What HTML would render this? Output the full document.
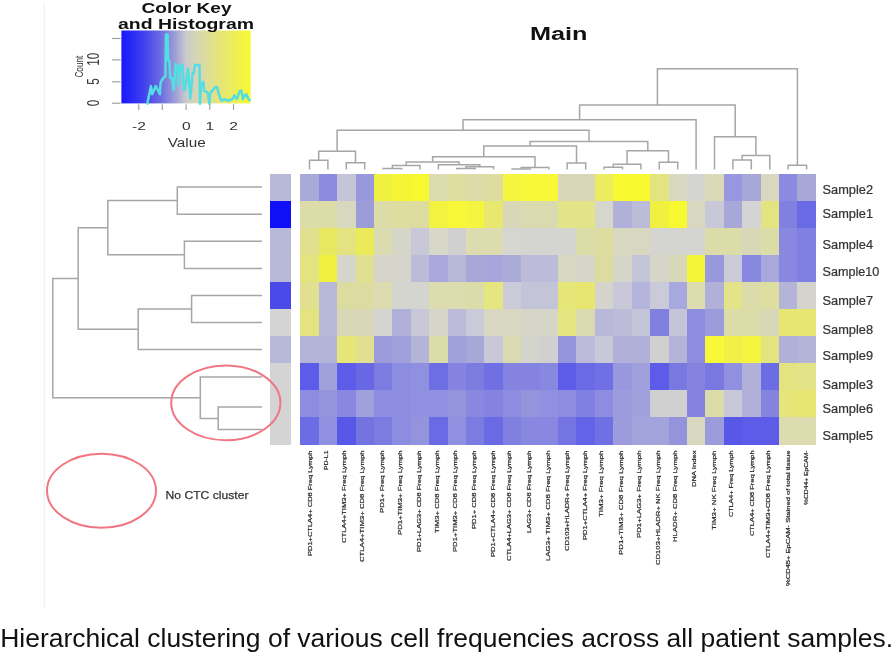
<!DOCTYPE html><html><head><meta charset="utf-8"><title>Heatmap</title><style>html,body{margin:0;padding:0;background:#fff;}body{width:894px;height:656px;position:relative;overflow:hidden;font-family:"Liberation Sans",sans-serif;}</style></head><body><svg width="894" height="656" viewBox="0 0 894 656" style="position:absolute;left:0;top:0;will-change:transform">
<defs><linearGradient id="ck" x1="0" y1="0" x2="1" y2="0"><stop offset="0" stop-color="#1818fc"/><stop offset="0.15" stop-color="#3a3af0"/><stop offset="0.3" stop-color="#6a6ae2"/><stop offset="0.42" stop-color="#a0a0d6"/><stop offset="0.5" stop-color="#cacacc"/><stop offset="0.6" stop-color="#d8d8b0"/><stop offset="0.75" stop-color="#e4e47c"/><stop offset="0.9" stop-color="#f0f050"/><stop offset="1" stop-color="#f8f830"/></linearGradient></defs>
<line x1="44.3" y1="2.5" x2="44.3" y2="608" stroke="#eef0f8" stroke-width="1.2"/>
<g shape-rendering="crispEdges">
<rect x="300.30" y="173.50" width="18.71" height="27.40" fill="#aaaad8"/>
<rect x="318.71" y="173.50" width="18.71" height="27.40" fill="#8b8be0"/>
<rect x="337.12" y="173.50" width="18.71" height="27.40" fill="#c5c5d8"/>
<rect x="355.53" y="173.50" width="18.71" height="27.40" fill="#9898dc"/>
<rect x="373.94" y="173.50" width="18.71" height="27.40" fill="#f0f040"/>
<rect x="392.35" y="173.50" width="18.71" height="27.40" fill="#f5f535"/>
<rect x="410.76" y="173.50" width="18.71" height="27.40" fill="#f8f830"/>
<rect x="429.17" y="173.50" width="18.71" height="27.40" fill="#dcdcb0"/>
<rect x="447.58" y="173.50" width="18.71" height="27.40" fill="#dedea0"/>
<rect x="465.99" y="173.50" width="18.71" height="27.40" fill="#dcdca8"/>
<rect x="484.40" y="173.50" width="18.71" height="27.40" fill="#dddda0"/>
<rect x="502.81" y="173.50" width="18.71" height="27.40" fill="#f5f540"/>
<rect x="521.22" y="173.50" width="18.71" height="27.40" fill="#f8f838"/>
<rect x="539.63" y="173.50" width="18.71" height="27.40" fill="#f8f838"/>
<rect x="558.04" y="173.50" width="18.71" height="27.40" fill="#d8d8b8"/>
<rect x="576.45" y="173.50" width="18.71" height="27.40" fill="#d8d8b8"/>
<rect x="594.86" y="173.50" width="18.71" height="27.40" fill="#ecec60"/>
<rect x="613.27" y="173.50" width="18.71" height="27.40" fill="#f8f830"/>
<rect x="631.68" y="173.50" width="18.71" height="27.40" fill="#f8f830"/>
<rect x="650.09" y="173.50" width="18.71" height="27.40" fill="#e3e380"/>
<rect x="668.50" y="173.50" width="18.71" height="27.40" fill="#d8d8c0"/>
<rect x="686.91" y="173.50" width="18.71" height="27.40" fill="#d4d4d0"/>
<rect x="705.32" y="173.50" width="18.71" height="27.40" fill="#dadab8"/>
<rect x="723.73" y="173.50" width="18.71" height="27.40" fill="#9898e0"/>
<rect x="742.14" y="173.50" width="18.71" height="27.40" fill="#a8a8d8"/>
<rect x="760.55" y="173.50" width="18.71" height="27.40" fill="#d8d8c0"/>
<rect x="778.96" y="173.50" width="18.71" height="27.40" fill="#8a8ae0"/>
<rect x="797.37" y="173.50" width="18.71" height="27.40" fill="#a8a8d8"/>
<rect x="300.30" y="200.60" width="18.71" height="27.40" fill="#dcdca8"/>
<rect x="318.71" y="200.60" width="18.71" height="27.40" fill="#dcdca8"/>
<rect x="337.12" y="200.60" width="18.71" height="27.40" fill="#d8d8c0"/>
<rect x="355.53" y="200.60" width="18.71" height="27.40" fill="#9c9cd8"/>
<rect x="373.94" y="200.60" width="18.71" height="27.40" fill="#dcdca8"/>
<rect x="392.35" y="200.60" width="18.71" height="27.40" fill="#dddda0"/>
<rect x="410.76" y="200.60" width="18.71" height="27.40" fill="#dcdca0"/>
<rect x="429.17" y="200.60" width="18.71" height="27.40" fill="#f2f240"/>
<rect x="447.58" y="200.60" width="18.71" height="27.40" fill="#f8f838"/>
<rect x="465.99" y="200.60" width="18.71" height="27.40" fill="#f5f540"/>
<rect x="484.40" y="200.60" width="18.71" height="27.40" fill="#e8e870"/>
<rect x="502.81" y="200.60" width="18.71" height="27.40" fill="#d8d8b8"/>
<rect x="521.22" y="200.60" width="18.71" height="27.40" fill="#dadab0"/>
<rect x="539.63" y="200.60" width="18.71" height="27.40" fill="#dadab0"/>
<rect x="558.04" y="200.60" width="18.71" height="27.40" fill="#e3e388"/>
<rect x="576.45" y="200.60" width="18.71" height="27.40" fill="#e3e388"/>
<rect x="594.86" y="200.60" width="18.71" height="27.40" fill="#d6d6cc"/>
<rect x="613.27" y="200.60" width="18.71" height="27.40" fill="#b0b0d8"/>
<rect x="631.68" y="200.60" width="18.71" height="27.40" fill="#bcbcd8"/>
<rect x="650.09" y="200.60" width="18.71" height="27.40" fill="#f0f040"/>
<rect x="668.50" y="200.60" width="18.71" height="27.40" fill="#f8f830"/>
<rect x="686.91" y="200.60" width="18.71" height="27.40" fill="#d8d8c0"/>
<rect x="705.32" y="200.60" width="18.71" height="27.40" fill="#c8c8d8"/>
<rect x="723.73" y="200.60" width="18.71" height="27.40" fill="#a8a8d8"/>
<rect x="742.14" y="200.60" width="18.71" height="27.40" fill="#d4d4d4"/>
<rect x="760.55" y="200.60" width="18.71" height="27.40" fill="#e3e380"/>
<rect x="778.96" y="200.60" width="18.71" height="27.40" fill="#8080e0"/>
<rect x="797.37" y="200.60" width="18.71" height="27.40" fill="#6a6ae4"/>
<rect x="300.30" y="227.70" width="18.71" height="27.40" fill="#e0e090"/>
<rect x="318.71" y="227.70" width="18.71" height="27.40" fill="#e8e860"/>
<rect x="337.12" y="227.70" width="18.71" height="27.40" fill="#e3e380"/>
<rect x="355.53" y="227.70" width="18.71" height="27.40" fill="#ebeb5a"/>
<rect x="373.94" y="227.70" width="18.71" height="27.40" fill="#dadab0"/>
<rect x="392.35" y="227.70" width="18.71" height="27.40" fill="#d6d6c8"/>
<rect x="410.76" y="227.70" width="18.71" height="27.40" fill="#c8c8d8"/>
<rect x="429.17" y="227.70" width="18.71" height="27.40" fill="#d8d8c8"/>
<rect x="447.58" y="227.70" width="18.71" height="27.40" fill="#d0d0d0"/>
<rect x="465.99" y="227.70" width="18.71" height="27.40" fill="#dcdcb0"/>
<rect x="484.40" y="227.70" width="18.71" height="27.40" fill="#dcdcb0"/>
<rect x="502.81" y="227.70" width="18.71" height="27.40" fill="#d6d6d0"/>
<rect x="521.22" y="227.70" width="18.71" height="27.40" fill="#d4d4d0"/>
<rect x="539.63" y="227.70" width="18.71" height="27.40" fill="#d4d4d0"/>
<rect x="558.04" y="227.70" width="18.71" height="27.40" fill="#d4d4d0"/>
<rect x="576.45" y="227.70" width="18.71" height="27.40" fill="#dcdca8"/>
<rect x="594.86" y="227.70" width="18.71" height="27.40" fill="#dcdca0"/>
<rect x="613.27" y="227.70" width="18.71" height="27.40" fill="#d8d8c0"/>
<rect x="631.68" y="227.70" width="18.71" height="27.40" fill="#d8d8c0"/>
<rect x="650.09" y="227.70" width="18.71" height="27.40" fill="#d4d4d0"/>
<rect x="668.50" y="227.70" width="18.71" height="27.40" fill="#d4d4d0"/>
<rect x="686.91" y="227.70" width="18.71" height="27.40" fill="#d4d4d0"/>
<rect x="705.32" y="227.70" width="18.71" height="27.40" fill="#dcdca8"/>
<rect x="723.73" y="227.70" width="18.71" height="27.40" fill="#dcdca8"/>
<rect x="742.14" y="227.70" width="18.71" height="27.40" fill="#d8d8b8"/>
<rect x="760.55" y="227.70" width="18.71" height="27.40" fill="#dcdca8"/>
<rect x="778.96" y="227.70" width="18.71" height="27.40" fill="#8888e0"/>
<rect x="797.37" y="227.70" width="18.71" height="27.40" fill="#8080e0"/>
<rect x="300.30" y="254.80" width="18.71" height="27.40" fill="#e3e380"/>
<rect x="318.71" y="254.80" width="18.71" height="27.40" fill="#f0f040"/>
<rect x="337.12" y="254.80" width="18.71" height="27.40" fill="#d5d5cc"/>
<rect x="355.53" y="254.80" width="18.71" height="27.40" fill="#e0e090"/>
<rect x="373.94" y="254.80" width="18.71" height="27.40" fill="#d5d5cc"/>
<rect x="392.35" y="254.80" width="18.71" height="27.40" fill="#d5d5cc"/>
<rect x="410.76" y="254.80" width="18.71" height="27.40" fill="#bcbcd8"/>
<rect x="429.17" y="254.80" width="18.71" height="27.40" fill="#a8a8dc"/>
<rect x="447.58" y="254.80" width="18.71" height="27.40" fill="#b8b8d8"/>
<rect x="465.99" y="254.80" width="18.71" height="27.40" fill="#a8a8d8"/>
<rect x="484.40" y="254.80" width="18.71" height="27.40" fill="#a6a6dc"/>
<rect x="502.81" y="254.80" width="18.71" height="27.40" fill="#ababd8"/>
<rect x="521.22" y="254.80" width="18.71" height="27.40" fill="#bcbcd8"/>
<rect x="539.63" y="254.80" width="18.71" height="27.40" fill="#bcbcd8"/>
<rect x="558.04" y="254.80" width="18.71" height="27.40" fill="#d8d8c0"/>
<rect x="576.45" y="254.80" width="18.71" height="27.40" fill="#d6d6c8"/>
<rect x="594.86" y="254.80" width="18.71" height="27.40" fill="#dcdca0"/>
<rect x="613.27" y="254.80" width="18.71" height="27.40" fill="#d6d6c8"/>
<rect x="631.68" y="254.80" width="18.71" height="27.40" fill="#c4c4d8"/>
<rect x="650.09" y="254.80" width="18.71" height="27.40" fill="#d6d6c8"/>
<rect x="668.50" y="254.80" width="18.71" height="27.40" fill="#d8d8b8"/>
<rect x="686.91" y="254.80" width="18.71" height="27.40" fill="#f5f538"/>
<rect x="705.32" y="254.80" width="18.71" height="27.40" fill="#9898dc"/>
<rect x="723.73" y="254.80" width="18.71" height="27.40" fill="#cacad8"/>
<rect x="742.14" y="254.80" width="18.71" height="27.40" fill="#8888e0"/>
<rect x="760.55" y="254.80" width="18.71" height="27.40" fill="#a8a8dc"/>
<rect x="778.96" y="254.80" width="18.71" height="27.40" fill="#8888e0"/>
<rect x="797.37" y="254.80" width="18.71" height="27.40" fill="#8080e0"/>
<rect x="300.30" y="281.90" width="18.71" height="27.40" fill="#e0e090"/>
<rect x="318.71" y="281.90" width="18.71" height="27.40" fill="#b8b8d8"/>
<rect x="337.12" y="281.90" width="18.71" height="27.40" fill="#dcdca0"/>
<rect x="355.53" y="281.90" width="18.71" height="27.40" fill="#dcdca0"/>
<rect x="373.94" y="281.90" width="18.71" height="27.40" fill="#dcdcb0"/>
<rect x="392.35" y="281.90" width="18.71" height="27.40" fill="#d5d5d0"/>
<rect x="410.76" y="281.90" width="18.71" height="27.40" fill="#d5d5d0"/>
<rect x="429.17" y="281.90" width="18.71" height="27.40" fill="#dcdcb0"/>
<rect x="447.58" y="281.90" width="18.71" height="27.40" fill="#dcdcb0"/>
<rect x="465.99" y="281.90" width="18.71" height="27.40" fill="#dcdcaa"/>
<rect x="484.40" y="281.90" width="18.71" height="27.40" fill="#e6e680"/>
<rect x="502.81" y="281.90" width="18.71" height="27.40" fill="#cacad8"/>
<rect x="521.22" y="281.90" width="18.71" height="27.40" fill="#c4c4d8"/>
<rect x="539.63" y="281.90" width="18.71" height="27.40" fill="#c4c4d8"/>
<rect x="558.04" y="281.90" width="18.71" height="27.40" fill="#e6e678"/>
<rect x="576.45" y="281.90" width="18.71" height="27.40" fill="#e6e670"/>
<rect x="594.86" y="281.90" width="18.71" height="27.40" fill="#d4d4cc"/>
<rect x="613.27" y="281.90" width="18.71" height="27.40" fill="#c8c8d8"/>
<rect x="631.68" y="281.90" width="18.71" height="27.40" fill="#b4b4dc"/>
<rect x="650.09" y="281.90" width="18.71" height="27.40" fill="#cacad8"/>
<rect x="668.50" y="281.90" width="18.71" height="27.40" fill="#a8a8e0"/>
<rect x="686.91" y="281.90" width="18.71" height="27.40" fill="#dcdcb0"/>
<rect x="705.32" y="281.90" width="18.71" height="27.40" fill="#b0b0d8"/>
<rect x="723.73" y="281.90" width="18.71" height="27.40" fill="#e3e38a"/>
<rect x="742.14" y="281.90" width="18.71" height="27.40" fill="#dcdcaa"/>
<rect x="760.55" y="281.90" width="18.71" height="27.40" fill="#dedea0"/>
<rect x="778.96" y="281.90" width="18.71" height="27.40" fill="#b4b4d8"/>
<rect x="797.37" y="281.90" width="18.71" height="27.40" fill="#d4d4cc"/>
<rect x="300.30" y="309.00" width="18.71" height="27.40" fill="#e3e380"/>
<rect x="318.71" y="309.00" width="18.71" height="27.40" fill="#b8b8d8"/>
<rect x="337.12" y="309.00" width="18.71" height="27.40" fill="#d8d8b8"/>
<rect x="355.53" y="309.00" width="18.71" height="27.40" fill="#d8d8b8"/>
<rect x="373.94" y="309.00" width="18.71" height="27.40" fill="#d4d4d0"/>
<rect x="392.35" y="309.00" width="18.71" height="27.40" fill="#b0b0d8"/>
<rect x="410.76" y="309.00" width="18.71" height="27.40" fill="#c8c8d8"/>
<rect x="429.17" y="309.00" width="18.71" height="27.40" fill="#d6d6c8"/>
<rect x="447.58" y="309.00" width="18.71" height="27.40" fill="#bcbcd8"/>
<rect x="465.99" y="309.00" width="18.71" height="27.40" fill="#cacad8"/>
<rect x="484.40" y="309.00" width="18.71" height="27.40" fill="#d8d8c0"/>
<rect x="502.81" y="309.00" width="18.71" height="27.40" fill="#d8d8c0"/>
<rect x="521.22" y="309.00" width="18.71" height="27.40" fill="#d6d6c8"/>
<rect x="539.63" y="309.00" width="18.71" height="27.40" fill="#d6d6c8"/>
<rect x="558.04" y="309.00" width="18.71" height="27.40" fill="#e6e680"/>
<rect x="576.45" y="309.00" width="18.71" height="27.40" fill="#dadab0"/>
<rect x="594.86" y="309.00" width="18.71" height="27.40" fill="#b8b8d8"/>
<rect x="613.27" y="309.00" width="18.71" height="27.40" fill="#bcbcd8"/>
<rect x="631.68" y="309.00" width="18.71" height="27.40" fill="#c4c4d8"/>
<rect x="650.09" y="309.00" width="18.71" height="27.40" fill="#8080e0"/>
<rect x="668.50" y="309.00" width="18.71" height="27.40" fill="#c4c4d8"/>
<rect x="686.91" y="309.00" width="18.71" height="27.40" fill="#8c8ce0"/>
<rect x="705.32" y="309.00" width="18.71" height="27.40" fill="#9c9cdc"/>
<rect x="723.73" y="309.00" width="18.71" height="27.40" fill="#dcdca8"/>
<rect x="742.14" y="309.00" width="18.71" height="27.40" fill="#dcdca8"/>
<rect x="760.55" y="309.00" width="18.71" height="27.40" fill="#d8d8b8"/>
<rect x="778.96" y="309.00" width="18.71" height="27.40" fill="#e6e670"/>
<rect x="797.37" y="309.00" width="18.71" height="27.40" fill="#e6e670"/>
<rect x="300.30" y="336.10" width="18.71" height="27.40" fill="#b4b4d8"/>
<rect x="318.71" y="336.10" width="18.71" height="27.40" fill="#b4b4d8"/>
<rect x="337.12" y="336.10" width="18.71" height="27.40" fill="#e6e678"/>
<rect x="355.53" y="336.10" width="18.71" height="27.40" fill="#e0e090"/>
<rect x="373.94" y="336.10" width="18.71" height="27.40" fill="#9c9cdc"/>
<rect x="392.35" y="336.10" width="18.71" height="27.40" fill="#a0a0dc"/>
<rect x="410.76" y="336.10" width="18.71" height="27.40" fill="#b4b4d8"/>
<rect x="429.17" y="336.10" width="18.71" height="27.40" fill="#dcdca8"/>
<rect x="447.58" y="336.10" width="18.71" height="27.40" fill="#a0a0dc"/>
<rect x="465.99" y="336.10" width="18.71" height="27.40" fill="#a8a8d8"/>
<rect x="484.40" y="336.10" width="18.71" height="27.40" fill="#c8c8d8"/>
<rect x="502.81" y="336.10" width="18.71" height="27.40" fill="#dadab0"/>
<rect x="521.22" y="336.10" width="18.71" height="27.40" fill="#d4d4cc"/>
<rect x="539.63" y="336.10" width="18.71" height="27.40" fill="#d0d0d0"/>
<rect x="558.04" y="336.10" width="18.71" height="27.40" fill="#9494dc"/>
<rect x="576.45" y="336.10" width="18.71" height="27.40" fill="#bcbcd8"/>
<rect x="594.86" y="336.10" width="18.71" height="27.40" fill="#c8c8d8"/>
<rect x="613.27" y="336.10" width="18.71" height="27.40" fill="#b0b0d8"/>
<rect x="631.68" y="336.10" width="18.71" height="27.40" fill="#b0b0d8"/>
<rect x="650.09" y="336.10" width="18.71" height="27.40" fill="#d0d0d0"/>
<rect x="668.50" y="336.10" width="18.71" height="27.40" fill="#b4b4d8"/>
<rect x="686.91" y="336.10" width="18.71" height="27.40" fill="#8c8ce0"/>
<rect x="705.32" y="336.10" width="18.71" height="27.40" fill="#f8f838"/>
<rect x="723.73" y="336.10" width="18.71" height="27.40" fill="#f0f048"/>
<rect x="742.14" y="336.10" width="18.71" height="27.40" fill="#f5f540"/>
<rect x="760.55" y="336.10" width="18.71" height="27.40" fill="#e3e380"/>
<rect x="778.96" y="336.10" width="18.71" height="27.40" fill="#b0b0d8"/>
<rect x="797.37" y="336.10" width="18.71" height="27.40" fill="#b4b4d8"/>
<rect x="300.30" y="363.20" width="18.71" height="27.40" fill="#5c5ce8"/>
<rect x="318.71" y="363.20" width="18.71" height="27.40" fill="#a0a0dc"/>
<rect x="337.12" y="363.20" width="18.71" height="27.40" fill="#5c5ce8"/>
<rect x="355.53" y="363.20" width="18.71" height="27.40" fill="#6868e4"/>
<rect x="373.94" y="363.20" width="18.71" height="27.40" fill="#7c7ce0"/>
<rect x="392.35" y="363.20" width="18.71" height="27.40" fill="#8c8ce0"/>
<rect x="410.76" y="363.20" width="18.71" height="27.40" fill="#9090e0"/>
<rect x="429.17" y="363.20" width="18.71" height="27.40" fill="#6e6ee4"/>
<rect x="447.58" y="363.20" width="18.71" height="27.40" fill="#8484e0"/>
<rect x="465.99" y="363.20" width="18.71" height="27.40" fill="#7c7ce0"/>
<rect x="484.40" y="363.20" width="18.71" height="27.40" fill="#7070e4"/>
<rect x="502.81" y="363.20" width="18.71" height="27.40" fill="#8484e0"/>
<rect x="521.22" y="363.20" width="18.71" height="27.40" fill="#8484e0"/>
<rect x="539.63" y="363.20" width="18.71" height="27.40" fill="#8888e0"/>
<rect x="558.04" y="363.20" width="18.71" height="27.40" fill="#5c5ce8"/>
<rect x="576.45" y="363.20" width="18.71" height="27.40" fill="#6a6ae4"/>
<rect x="594.86" y="363.20" width="18.71" height="27.40" fill="#7070e4"/>
<rect x="613.27" y="363.20" width="18.71" height="27.40" fill="#9898dc"/>
<rect x="631.68" y="363.20" width="18.71" height="27.40" fill="#a0a0dc"/>
<rect x="650.09" y="363.20" width="18.71" height="27.40" fill="#5c5ce8"/>
<rect x="668.50" y="363.20" width="18.71" height="27.40" fill="#7878e0"/>
<rect x="686.91" y="363.20" width="18.71" height="27.40" fill="#8484e0"/>
<rect x="705.32" y="363.20" width="18.71" height="27.40" fill="#7878e0"/>
<rect x="723.73" y="363.20" width="18.71" height="27.40" fill="#9090e0"/>
<rect x="742.14" y="363.20" width="18.71" height="27.40" fill="#b0b0d8"/>
<rect x="760.55" y="363.20" width="18.71" height="27.40" fill="#6c6ce4"/>
<rect x="778.96" y="363.20" width="18.71" height="27.40" fill="#e3e380"/>
<rect x="797.37" y="363.20" width="18.71" height="27.40" fill="#e3e388"/>
<rect x="300.30" y="390.30" width="18.71" height="27.40" fill="#8c8ce0"/>
<rect x="318.71" y="390.30" width="18.71" height="27.40" fill="#9494dc"/>
<rect x="337.12" y="390.30" width="18.71" height="27.40" fill="#8888e0"/>
<rect x="355.53" y="390.30" width="18.71" height="27.40" fill="#a0a0dc"/>
<rect x="373.94" y="390.30" width="18.71" height="27.40" fill="#8c8ce0"/>
<rect x="392.35" y="390.30" width="18.71" height="27.40" fill="#8c8ce0"/>
<rect x="410.76" y="390.30" width="18.71" height="27.40" fill="#9090e0"/>
<rect x="429.17" y="390.30" width="18.71" height="27.40" fill="#9090e0"/>
<rect x="447.58" y="390.30" width="18.71" height="27.40" fill="#9494dc"/>
<rect x="465.99" y="390.30" width="18.71" height="27.40" fill="#8888e0"/>
<rect x="484.40" y="390.30" width="18.71" height="27.40" fill="#8484e0"/>
<rect x="502.81" y="390.30" width="18.71" height="27.40" fill="#8c8ce0"/>
<rect x="521.22" y="390.30" width="18.71" height="27.40" fill="#9494dc"/>
<rect x="539.63" y="390.30" width="18.71" height="27.40" fill="#9090e0"/>
<rect x="558.04" y="390.30" width="18.71" height="27.40" fill="#8c8ce0"/>
<rect x="576.45" y="390.30" width="18.71" height="27.40" fill="#8080e0"/>
<rect x="594.86" y="390.30" width="18.71" height="27.40" fill="#8c8ce0"/>
<rect x="613.27" y="390.30" width="18.71" height="27.40" fill="#9c9cdc"/>
<rect x="631.68" y="390.30" width="18.71" height="27.40" fill="#a0a0dc"/>
<rect x="650.09" y="390.30" width="18.71" height="27.40" fill="#d0d0d0"/>
<rect x="668.50" y="390.30" width="18.71" height="27.40" fill="#d0d0d0"/>
<rect x="686.91" y="390.30" width="18.71" height="27.40" fill="#8484e0"/>
<rect x="705.32" y="390.30" width="18.71" height="27.40" fill="#dcdca8"/>
<rect x="723.73" y="390.30" width="18.71" height="27.40" fill="#c8c8d8"/>
<rect x="742.14" y="390.30" width="18.71" height="27.40" fill="#b0b0d8"/>
<rect x="760.55" y="390.30" width="18.71" height="27.40" fill="#8484e0"/>
<rect x="778.96" y="390.30" width="18.71" height="27.40" fill="#e6e678"/>
<rect x="797.37" y="390.30" width="18.71" height="27.40" fill="#e6e670"/>
<rect x="300.30" y="417.40" width="18.71" height="27.40" fill="#6c6ce4"/>
<rect x="318.71" y="417.40" width="18.71" height="27.40" fill="#9090e0"/>
<rect x="337.12" y="417.40" width="18.71" height="27.40" fill="#5858e8"/>
<rect x="355.53" y="417.40" width="18.71" height="27.40" fill="#7474e0"/>
<rect x="373.94" y="417.40" width="18.71" height="27.40" fill="#7c7ce0"/>
<rect x="392.35" y="417.40" width="18.71" height="27.40" fill="#8c8ce0"/>
<rect x="410.76" y="417.40" width="18.71" height="27.40" fill="#9494dc"/>
<rect x="429.17" y="417.40" width="18.71" height="27.40" fill="#6a6ae4"/>
<rect x="447.58" y="417.40" width="18.71" height="27.40" fill="#9090e0"/>
<rect x="465.99" y="417.40" width="18.71" height="27.40" fill="#7c7ce0"/>
<rect x="484.40" y="417.40" width="18.71" height="27.40" fill="#6a6ae4"/>
<rect x="502.81" y="417.40" width="18.71" height="27.40" fill="#8080e0"/>
<rect x="521.22" y="417.40" width="18.71" height="27.40" fill="#8888e0"/>
<rect x="539.63" y="417.40" width="18.71" height="27.40" fill="#8888e0"/>
<rect x="558.04" y="417.40" width="18.71" height="27.40" fill="#7474e4"/>
<rect x="576.45" y="417.40" width="18.71" height="27.40" fill="#6464e8"/>
<rect x="594.86" y="417.40" width="18.71" height="27.40" fill="#7070e4"/>
<rect x="613.27" y="417.40" width="18.71" height="27.40" fill="#9c9cdc"/>
<rect x="631.68" y="417.40" width="18.71" height="27.40" fill="#a4a4dc"/>
<rect x="650.09" y="417.40" width="18.71" height="27.40" fill="#a4a4dc"/>
<rect x="668.50" y="417.40" width="18.71" height="27.40" fill="#9494dc"/>
<rect x="686.91" y="417.40" width="18.71" height="27.40" fill="#d8d8c0"/>
<rect x="705.32" y="417.40" width="18.71" height="27.40" fill="#9c9cdc"/>
<rect x="723.73" y="417.40" width="18.71" height="27.40" fill="#5858e8"/>
<rect x="742.14" y="417.40" width="18.71" height="27.40" fill="#5c5ce8"/>
<rect x="760.55" y="417.40" width="18.71" height="27.40" fill="#5c5ce8"/>
<rect x="778.96" y="417.40" width="18.71" height="27.40" fill="#dcdcb0"/>
<rect x="797.37" y="417.40" width="18.71" height="27.40" fill="#dcdcb0"/>
<rect x="270.4" y="173.50" width="21" height="27.40" fill="#b8b8d8"/>
<rect x="270.4" y="200.60" width="21" height="27.40" fill="#1010f8"/>
<rect x="270.4" y="227.70" width="21" height="27.40" fill="#b8b8d8"/>
<rect x="270.4" y="254.80" width="21" height="27.40" fill="#b8b8d8"/>
<rect x="270.4" y="281.90" width="21" height="27.40" fill="#4a4ae8"/>
<rect x="270.4" y="309.00" width="21" height="27.40" fill="#d4d4d4"/>
<rect x="270.4" y="336.10" width="21" height="27.40" fill="#b8b8d8"/>
<rect x="270.4" y="363.20" width="21" height="27.40" fill="#d4d4d4"/>
<rect x="270.4" y="390.30" width="21" height="27.40" fill="#d4d4d4"/>
<rect x="270.4" y="417.40" width="21" height="27.40" fill="#d4d4d4"/>
</g>
<text x="822.6" y="194.4" font-family="Liberation Sans" font-size="12.8" fill="#333" stroke="#333" stroke-width="0.22" textLength="50.4" lengthAdjust="spacingAndGlyphs">Sample2</text>
<text x="822.6" y="218.4" font-family="Liberation Sans" font-size="12.8" fill="#333" stroke="#333" stroke-width="0.22" textLength="50.4" lengthAdjust="spacingAndGlyphs">Sample1</text>
<text x="822.6" y="248.9" font-family="Liberation Sans" font-size="12.8" fill="#333" stroke="#333" stroke-width="0.22" textLength="50.4" lengthAdjust="spacingAndGlyphs">Sample4</text>
<text x="822.6" y="275.7" font-family="Liberation Sans" font-size="12.8" fill="#333" stroke="#333" stroke-width="0.22" textLength="56.6" lengthAdjust="spacingAndGlyphs">Sample10</text>
<text x="822.6" y="304.9" font-family="Liberation Sans" font-size="12.8" fill="#333" stroke="#333" stroke-width="0.22" textLength="50.4" lengthAdjust="spacingAndGlyphs">Sample7</text>
<text x="822.6" y="334.3" font-family="Liberation Sans" font-size="12.8" fill="#333" stroke="#333" stroke-width="0.22" textLength="50.4" lengthAdjust="spacingAndGlyphs">Sample8</text>
<text x="822.6" y="359.8" font-family="Liberation Sans" font-size="12.8" fill="#333" stroke="#333" stroke-width="0.22" textLength="50.4" lengthAdjust="spacingAndGlyphs">Sample9</text>
<text x="822.6" y="388.7" font-family="Liberation Sans" font-size="12.8" fill="#333" stroke="#333" stroke-width="0.22" textLength="50.4" lengthAdjust="spacingAndGlyphs">Sample3</text>
<text x="822.6" y="413.0" font-family="Liberation Sans" font-size="12.8" fill="#333" stroke="#333" stroke-width="0.22" textLength="50.4" lengthAdjust="spacingAndGlyphs">Sample6</text>
<text x="822.6" y="440.4" font-family="Liberation Sans" font-size="12.8" fill="#333" stroke="#333" stroke-width="0.22" textLength="50.4" lengthAdjust="spacingAndGlyphs">Sample5</text>
<text transform="translate(311.5,556) rotate(-90)" x="0" y="0" font-family="Liberation Sans" font-size="6.1" fill="#2a2a2a" stroke="#2a2a2a" stroke-width="0.22" textLength="105.5" lengthAdjust="spacingAndGlyphs">PD1+CTLA4+ CD8 Freq Lymph</text>
<text transform="translate(328.2,470) rotate(-90)" x="0" y="0" font-family="Liberation Sans" font-size="6.1" fill="#2a2a2a" stroke="#2a2a2a" stroke-width="0.22" textLength="19.5" lengthAdjust="spacingAndGlyphs">PD-L1</text>
<text transform="translate(346.3,543) rotate(-90)" x="0" y="0" font-family="Liberation Sans" font-size="6.1" fill="#2a2a2a" stroke="#2a2a2a" stroke-width="0.22" textLength="92.5" lengthAdjust="spacingAndGlyphs">CTLA4+TIM3+ Freq Lymph</text>
<text transform="translate(364.4,562) rotate(-90)" x="0" y="0" font-family="Liberation Sans" font-size="6.1" fill="#2a2a2a" stroke="#2a2a2a" stroke-width="0.22" textLength="111.5" lengthAdjust="spacingAndGlyphs">CTLA4+TIM3+ CD8 Freq Lymph</text>
<text transform="translate(384.0,513) rotate(-90)" x="0" y="0" font-family="Liberation Sans" font-size="6.1" fill="#2a2a2a" stroke="#2a2a2a" stroke-width="0.22" textLength="62.5" lengthAdjust="spacingAndGlyphs">PD1+ Freq Lymph</text>
<text transform="translate(402.3,535) rotate(-90)" x="0" y="0" font-family="Liberation Sans" font-size="6.1" fill="#2a2a2a" stroke="#2a2a2a" stroke-width="0.22" textLength="84.5" lengthAdjust="spacingAndGlyphs">PD1+TIM3+ Freq Lymph</text>
<text transform="translate(421.3,552) rotate(-90)" x="0" y="0" font-family="Liberation Sans" font-size="6.1" fill="#2a2a2a" stroke="#2a2a2a" stroke-width="0.22" textLength="101.5" lengthAdjust="spacingAndGlyphs">PD1+LAG3+ CD8 Freq Lymph</text>
<text transform="translate(438.5,533) rotate(-90)" x="0" y="0" font-family="Liberation Sans" font-size="6.1" fill="#2a2a2a" stroke="#2a2a2a" stroke-width="0.22" textLength="82.5" lengthAdjust="spacingAndGlyphs">TIM3+ CD8 Freq Lymph</text>
<text transform="translate(456.7,552) rotate(-90)" x="0" y="0" font-family="Liberation Sans" font-size="6.1" fill="#2a2a2a" stroke="#2a2a2a" stroke-width="0.22" textLength="101.5" lengthAdjust="spacingAndGlyphs">PD1+TIM3+ CD8 Freq Lymph</text>
<text transform="translate(476.2,529) rotate(-90)" x="0" y="0" font-family="Liberation Sans" font-size="6.1" fill="#2a2a2a" stroke="#2a2a2a" stroke-width="0.22" textLength="78.5" lengthAdjust="spacingAndGlyphs">PD1+ CD8 Freq Lymph</text>
<text transform="translate(494.9,557) rotate(-90)" x="0" y="0" font-family="Liberation Sans" font-size="6.1" fill="#2a2a2a" stroke="#2a2a2a" stroke-width="0.22" textLength="106.5" lengthAdjust="spacingAndGlyphs">PD1+CTLA4+ CD8 Freq Lymph</text>
<text transform="translate(510.9,561) rotate(-90)" x="0" y="0" font-family="Liberation Sans" font-size="6.1" fill="#2a2a2a" stroke="#2a2a2a" stroke-width="0.22" textLength="110.5" lengthAdjust="spacingAndGlyphs">CTLA4+LAG3+ CD8 Freq Lymph</text>
<text transform="translate(530.6,533) rotate(-90)" x="0" y="0" font-family="Liberation Sans" font-size="6.1" fill="#2a2a2a" stroke="#2a2a2a" stroke-width="0.22" textLength="82.5" lengthAdjust="spacingAndGlyphs">LAG3+ CD8 Freq Lymph</text>
<text transform="translate(550.2,561) rotate(-90)" x="0" y="0" font-family="Liberation Sans" font-size="6.1" fill="#2a2a2a" stroke="#2a2a2a" stroke-width="0.22" textLength="110.5" lengthAdjust="spacingAndGlyphs">LAG3+ TIM3+ CD8 Freq Lymph</text>
<text transform="translate(569.4,551) rotate(-90)" x="0" y="0" font-family="Liberation Sans" font-size="6.1" fill="#2a2a2a" stroke="#2a2a2a" stroke-width="0.22" textLength="100.5" lengthAdjust="spacingAndGlyphs">CD103+HLADR+ Freq Lymph</text>
<text transform="translate(587.0,540) rotate(-90)" x="0" y="0" font-family="Liberation Sans" font-size="6.1" fill="#2a2a2a" stroke="#2a2a2a" stroke-width="0.22" textLength="89.5" lengthAdjust="spacingAndGlyphs">PD1+CTLA4+ Freq Lymph</text>
<text transform="translate(603.4,517) rotate(-90)" x="0" y="0" font-family="Liberation Sans" font-size="6.1" fill="#2a2a2a" stroke="#2a2a2a" stroke-width="0.22" textLength="66.5" lengthAdjust="spacingAndGlyphs">TIM3+ Freq Lymph</text>
<text transform="translate(622.9,555) rotate(-90)" x="0" y="0" font-family="Liberation Sans" font-size="6.1" fill="#2a2a2a" stroke="#2a2a2a" stroke-width="0.22" textLength="104.5" lengthAdjust="spacingAndGlyphs">PD1+TIM3+ CD8 Freq Lymph</text>
<text transform="translate(641.4,538) rotate(-90)" x="0" y="0" font-family="Liberation Sans" font-size="6.1" fill="#2a2a2a" stroke="#2a2a2a" stroke-width="0.22" textLength="87.5" lengthAdjust="spacingAndGlyphs">PD1+LAG3+ Freq Lymph</text>
<text transform="translate(659.9,565) rotate(-90)" x="0" y="0" font-family="Liberation Sans" font-size="6.1" fill="#2a2a2a" stroke="#2a2a2a" stroke-width="0.22" textLength="114.5" lengthAdjust="spacingAndGlyphs">CD103+HLADR+ NK Freq Lymph</text>
<text transform="translate(677.4,542) rotate(-90)" x="0" y="0" font-family="Liberation Sans" font-size="6.1" fill="#2a2a2a" stroke="#2a2a2a" stroke-width="0.22" textLength="91.5" lengthAdjust="spacingAndGlyphs">HLADR+ CD8 Freq Lymph</text>
<text transform="translate(695.9,487) rotate(-90)" x="0" y="0" font-family="Liberation Sans" font-size="6.1" fill="#2a2a2a" stroke="#2a2a2a" stroke-width="0.22" textLength="36.5" lengthAdjust="spacingAndGlyphs">DNA Index</text>
<text transform="translate(715.6,530) rotate(-90)" x="0" y="0" font-family="Liberation Sans" font-size="6.1" fill="#2a2a2a" stroke="#2a2a2a" stroke-width="0.22" textLength="79.5" lengthAdjust="spacingAndGlyphs">TIM3+ NK Freq Lymph</text>
<text transform="translate(732.8,517) rotate(-90)" x="0" y="0" font-family="Liberation Sans" font-size="6.1" fill="#2a2a2a" stroke="#2a2a2a" stroke-width="0.22" textLength="66.5" lengthAdjust="spacingAndGlyphs">CTLA4+ Freq Lymph</text>
<text transform="translate(753.5,536) rotate(-90)" x="0" y="0" font-family="Liberation Sans" font-size="6.1" fill="#2a2a2a" stroke="#2a2a2a" stroke-width="0.22" textLength="85.5" lengthAdjust="spacingAndGlyphs">CTLA4+ CD8 Freq Lymph</text>
<text transform="translate(769.9,558) rotate(-90)" x="0" y="0" font-family="Liberation Sans" font-size="6.1" fill="#2a2a2a" stroke="#2a2a2a" stroke-width="0.22" textLength="107.5" lengthAdjust="spacingAndGlyphs">CTLA4+TIM3+CD8 Freq Lymph</text>
<text transform="translate(789.6,586) rotate(-90)" x="0" y="0" font-family="Liberation Sans" font-size="6.1" fill="#2a2a2a" stroke="#2a2a2a" stroke-width="0.22" textLength="135.5" lengthAdjust="spacingAndGlyphs">%CD45+ EpCAM- Stained of total tissue</text>
<text transform="translate(807.9,505) rotate(-90)" x="0" y="0" font-family="Liberation Sans" font-size="6.1" fill="#2a2a2a" stroke="#2a2a2a" stroke-width="0.22" textLength="54.5" lengthAdjust="spacingAndGlyphs">%CD44+ EpCAM-</text>
<path d="M309.5,169.4 L309.5,160.3 L327.9,160.3 L327.9,169.4" stroke="#a6a6a6" stroke-width="1.5" fill="none"/>
<path d="M346.3,169.4 L346.3,162.7 L364.7,162.7 L364.7,169.4" stroke="#a6a6a6" stroke-width="1.5" fill="none"/>
<path d="M318.7,160.3 L318.7,151.2 L355.5,151.2 L355.5,162.7" stroke="#a6a6a6" stroke-width="1.5" fill="none"/>
<path d="M383.1,169.4 L383.1,168.6 L401.6,168.6 L401.6,169.4" stroke="#a6a6a6" stroke-width="1.5" fill="none"/>
<path d="M392.4,168.6 L392.4,165.5 L420.0,165.5 L420.0,169.4" stroke="#a6a6a6" stroke-width="1.5" fill="none"/>
<path d="M456.8,169.4 L456.8,168.4 L475.2,168.4 L475.2,169.4" stroke="#a6a6a6" stroke-width="1.5" fill="none"/>
<path d="M466.0,168.4 L466.0,166.8 L493.6,166.8 L493.6,169.4" stroke="#a6a6a6" stroke-width="1.5" fill="none"/>
<path d="M438.4,169.4 L438.4,164.8 L479.8,164.8 L479.8,166.8" stroke="#a6a6a6" stroke-width="1.5" fill="none"/>
<path d="M406.2,165.5 L406.2,162.0 L459.1,162.0 L459.1,164.8" stroke="#a6a6a6" stroke-width="1.5" fill="none"/>
<path d="M512.0,169.4 L512.0,168.9 L530.4,168.9 L530.4,169.4" stroke="#a6a6a6" stroke-width="1.5" fill="none"/>
<path d="M521.2,168.9 L521.2,167.5 L548.8,167.5 L548.8,169.4" stroke="#a6a6a6" stroke-width="1.5" fill="none"/>
<path d="M432.6,162.0 L432.6,156.8 L535.0,156.8 L535.0,167.5" stroke="#a6a6a6" stroke-width="1.5" fill="none"/>
<path d="M567.2,169.4 L567.2,163.0 L585.7,163.0 L585.7,169.4" stroke="#a6a6a6" stroke-width="1.5" fill="none"/>
<path d="M483.8,156.8 L483.8,146.0 L576.5,146.0 L576.5,163.0" stroke="#a6a6a6" stroke-width="1.5" fill="none"/>
<path d="M604.1,169.4 L604.1,167.2 L622.5,167.2 L622.5,169.4" stroke="#a6a6a6" stroke-width="1.5" fill="none"/>
<path d="M613.3,167.2 L613.3,164.2 L640.9,164.2 L640.9,169.4" stroke="#a6a6a6" stroke-width="1.5" fill="none"/>
<path d="M659.3,169.4 L659.3,162.2 L677.7,162.2 L677.7,169.4" stroke="#a6a6a6" stroke-width="1.5" fill="none"/>
<path d="M627.1,164.2 L627.1,150.8 L668.5,150.8 L668.5,162.2" stroke="#a6a6a6" stroke-width="1.5" fill="none"/>
<path d="M530.1,146.0 L530.1,141.4 L647.8,141.4 L647.8,150.8" stroke="#a6a6a6" stroke-width="1.5" fill="none"/>
<path d="M337.1,151.2 L337.1,130.2 L589.0,130.2 L589.0,141.4" stroke="#a6a6a6" stroke-width="1.5" fill="none"/>
<path d="M463.0,130.2 L463.0,119.8 L696.1,119.8 L696.1,169.4" stroke="#a6a6a6" stroke-width="1.5" fill="none"/>
<path d="M732.9,169.4 L732.9,160.0 L751.3,160.0 L751.3,169.4" stroke="#a6a6a6" stroke-width="1.5" fill="none"/>
<path d="M742.1,160.0 L742.1,155.4 L769.8,155.4 L769.8,169.4" stroke="#a6a6a6" stroke-width="1.5" fill="none"/>
<path d="M714.5,169.4 L714.5,136.7 L755.9,136.7 L755.9,155.4" stroke="#a6a6a6" stroke-width="1.5" fill="none"/>
<path d="M579.6,119.8 L579.6,105.0 L735.2,105.0 L735.2,136.7" stroke="#a6a6a6" stroke-width="1.5" fill="none"/>
<path d="M788.2,169.4 L788.2,165.3 L806.6,165.3 L806.6,169.4" stroke="#a6a6a6" stroke-width="1.5" fill="none"/>
<path d="M657.4,105.0 L657.4,68.8 L797.4,68.8 L797.4,165.3" stroke="#a6a6a6" stroke-width="1.5" fill="none"/>
<path d="M262.0,187.1 L177.3,187.1 L177.3,214.2 L262.0,214.2" stroke="#a6a6a6" stroke-width="1.5" fill="none"/>
<path d="M262.0,241.2 L184.4,241.2 L184.4,268.4 L262.0,268.4" stroke="#a6a6a6" stroke-width="1.5" fill="none"/>
<path d="M177.3,200.6 L107.8,200.6 L107.8,254.8 L184.4,254.8" stroke="#a6a6a6" stroke-width="1.5" fill="none"/>
<path d="M262.0,295.4 L191.6,295.4 L191.6,322.6 L262.0,322.6" stroke="#a6a6a6" stroke-width="1.5" fill="none"/>
<path d="M191.6,309.0 L138.2,309.0 L138.2,349.6 L262.0,349.6" stroke="#a6a6a6" stroke-width="1.5" fill="none"/>
<path d="M107.8,227.7 L78.2,227.7 L78.2,329.3 L138.2,329.3" stroke="#a6a6a6" stroke-width="1.5" fill="none"/>
<path d="M262.0,407.1 L218.2,407.1 L218.2,429.6 L262.0,429.6" stroke="#a6a6a6" stroke-width="1.5" fill="none"/>
<path d="M262.0,377.1 L200.3,377.1 L200.3,418.4 L218.2,418.4" stroke="#a6a6a6" stroke-width="1.5" fill="none"/>
<path d="M78.2,278.5 L52.8,278.5 L52.8,397.7 L200.3,397.7" stroke="#a6a6a6" stroke-width="1.5" fill="none"/>
<ellipse cx="225.8" cy="402.8" rx="54.6" ry="37.4" fill="none" stroke="#f27682" stroke-width="2"/>
<ellipse cx="101.5" cy="490.7" rx="54.5" ry="37.0" fill="none" stroke="#f27682" stroke-width="2"/>
<text x="165.5" y="499" font-family="Liberation Sans" font-size="11.6" fill="#333" stroke="#333" stroke-width="0.25" textLength="83" lengthAdjust="spacingAndGlyphs">No CTC cluster</text>
<rect x="121.4" y="30.5" width="129.2" height="72.9" fill="url(#ck)"/>
<polyline points="146.6,104.2 147.2,103.9 151.0,86.1 152.2,94.3 155.8,86.1 159.9,94.3 160.6,82.6 163.3,77.8 165.4,76.5 166.0,34.5 167.6,34.5 168.2,60.5 169.4,60.5 170.2,78.0 172.2,78.5 173.6,90.2 175.7,64.1 177.4,66.0 178.6,85.5 180.5,65.5 182.4,64.5 183.9,89.5 185.0,90.1 188.0,68.7 190.3,98.4 192.6,73.3 193.8,73.3 194.9,64.9 199.5,64.9 199.9,103.8 201.0,85.5 203.3,81.7 204.0,90.8 206.3,91.6 207.9,93.1 209.4,103.8 210.2,93.1 215.5,87.0 217.0,87.0 218.5,93.1 220.0,97.7 221.6,100.7 224.6,99.2 227.7,100.7 232.3,99.2 234.5,95.4 236.8,99.2 239.9,90.8 241.4,90.8 242.9,99.2 245.2,94.6 246.7,94.6 248.3,99.2 250.5,100.7" fill="none" stroke="#52dee2" stroke-width="2.5" stroke-linejoin="round"/>
<line x1="138.8" y1="104.2" x2="138.8" y2="110" stroke="#9a9a9a" stroke-width="1.1"/>
<line x1="162.3" y1="104.2" x2="162.3" y2="110" stroke="#9a9a9a" stroke-width="1.1"/>
<line x1="186.1" y1="104.2" x2="186.1" y2="110" stroke="#9a9a9a" stroke-width="1.1"/>
<line x1="209.8" y1="104.2" x2="209.8" y2="110" stroke="#9a9a9a" stroke-width="1.1"/>
<line x1="233.5" y1="104.2" x2="233.5" y2="110" stroke="#9a9a9a" stroke-width="1.1"/>
<line x1="112" y1="38.5" x2="120.6" y2="38.5" stroke="#9a9a9a" stroke-width="1.1"/>
<line x1="112" y1="59.9" x2="120.6" y2="59.9" stroke="#9a9a9a" stroke-width="1.1"/>
<line x1="112" y1="81.8" x2="120.6" y2="81.8" stroke="#9a9a9a" stroke-width="1.1"/>
<line x1="112" y1="103.2" x2="120.6" y2="103.2" stroke="#9a9a9a" stroke-width="1.1"/>
<text transform="translate(138.9,129.6) scale(1.32,1)" font-size="11.8" text-anchor="middle" font-family="Liberation Sans" fill="#333">-2</text>
<text transform="translate(186.3,129.6) scale(1.32,1)" font-size="11.8" text-anchor="middle" font-family="Liberation Sans" fill="#333">0</text>
<text transform="translate(209.8,129.6) scale(1.32,1)" font-size="11.8" text-anchor="middle" font-family="Liberation Sans" fill="#333">1</text>
<text transform="translate(233.6,129.6) scale(1.32,1)" font-size="11.8" text-anchor="middle" font-family="Liberation Sans" fill="#333">2</text>
<text x="186.7" y="147.3" font-size="12" text-anchor="middle" font-family="Liberation Sans" fill="#333" textLength="38" lengthAdjust="spacingAndGlyphs">Value</text>
<text transform="translate(98.6,103.0) scale(1.35,1) rotate(-90)" font-size="11.6" text-anchor="middle" font-family="Liberation Sans" fill="#333">0</text>
<text transform="translate(98.6,81.6) scale(1.35,1) rotate(-90)" font-size="11.6" text-anchor="middle" font-family="Liberation Sans" fill="#333">5</text>
<text transform="translate(98.6,59.2) scale(1.35,1) rotate(-90)" font-size="11.6" text-anchor="middle" font-family="Liberation Sans" fill="#333">10</text>
<text transform="translate(82.6,66.6) scale(1.3,1) rotate(-90)" font-size="8.6" text-anchor="middle" font-family="Liberation Sans" fill="#333" textLength="22" lengthAdjust="spacingAndGlyphs">Count</text>
<text x="186.5" y="12.9" font-family="Liberation Sans" font-weight="bold" font-size="13.8" text-anchor="middle" fill="#111" textLength="90" lengthAdjust="spacingAndGlyphs">Color Key</text>
<text x="186" y="28.6" font-family="Liberation Sans" font-weight="bold" font-size="13.8" text-anchor="middle" fill="#111" textLength="136" lengthAdjust="spacingAndGlyphs">and Histogram</text>
<text x="558.8" y="39.6" font-family="Liberation Sans" font-weight="bold" font-size="17.5" text-anchor="middle" fill="#111" textLength="57.5" lengthAdjust="spacingAndGlyphs">Main</text>
<text x="0.2" y="647.2" font-family="Liberation Sans" font-size="25.5" fill="#111" textLength="893" lengthAdjust="spacingAndGlyphs">Hierarchical clustering of various cell frequencies across all patient samples.</text>
</svg></body></html>
